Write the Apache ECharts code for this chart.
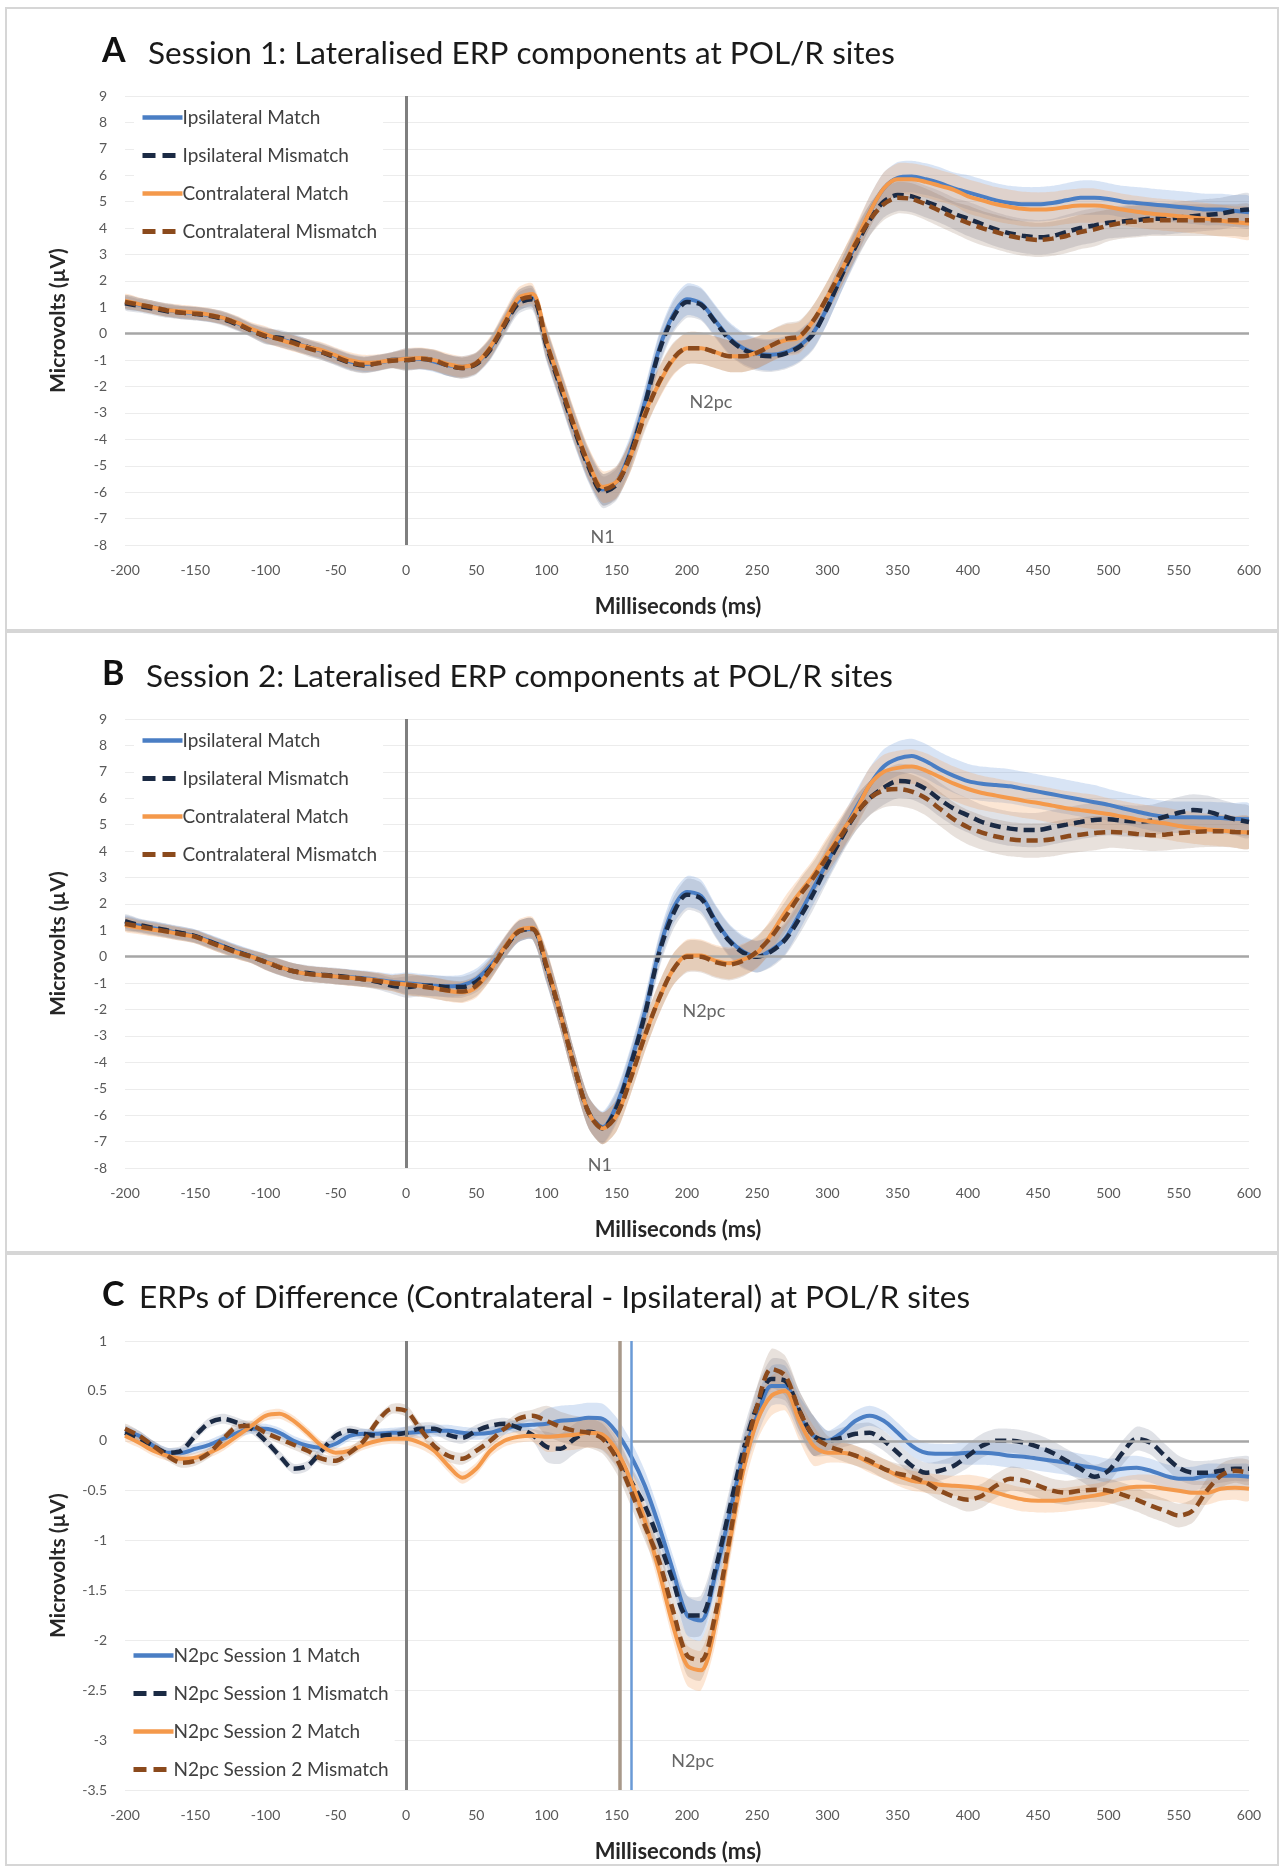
<!DOCTYPE html>
<html><head><meta charset="utf-8">
<script src="https://cdn.jsdelivr.net/npm/echarts@6/dist/echarts.min.js"></script>
<style>html,body{margin:0;padding:0;background:#fff}#c{width:1283px;height:1867px}</style>
</head><body><div id="c"></div>
<script>
// ---------- DATA ----------
const times = [-200,-190,-180,-170,-160,-150,-140,-130,-120,-110,
 -100,-90,-80,-70,-60,-50,-40,-30,-20,-10,
 0,10,20,30,40,50,60,70,80,90,
 100,110,120,130,140,150,160,170,180,190,
 200,210,220,230,240,250,260,270,280,290,
 300,310,320,330,340,350,360,370,380,390,
 400,410,420,430,440,450,460,470,480,490,
 500,510,520,530,540,550,560,570,580,590,600];

// Panel A: Session 1
const s1IpsiMatch = [1.2,1.1,1.0,0.9,0.82,0.78,0.7,0.6,0.4,0.15,
 -0.05,-0.2,-0.35,-0.5,-0.65,-0.85,-1.05,-1.15,-1.1,-1.0,
 -0.95,-0.95,-1.05,-1.2,-1.25,-1.1,-0.55,0.4,1.25,1.4,
 -0.4,-2.0,-3.6,-5.0,-5.9,-5.6,-4.4,-2.6,-0.6,0.7,
 1.3,1.15,0.5,-0.15,-0.55,-0.75,-0.8,-0.7,-0.45,0.05,
 1.0,2.2,3.4,4.6,5.5,5.9,5.95,5.85,5.7,5.5,
 5.35,5.2,5.05,4.95,4.9,4.9,4.95,5.05,5.15,5.15,
 5.1,5.0,4.95,4.9,4.85,4.8,4.75,4.7,4.7,4.65,4.6];
const s1IpsiMismatch = [1.15,1.05,0.95,0.85,0.8,0.75,0.68,0.55,0.35,0.12,
 -0.1,-0.15,-0.3,-0.5,-0.7,-0.9,-1.1,-1.2,-1.1,-1.0,
 -1.0,-0.95,-1.0,-1.2,-1.3,-1.15,-0.6,0.3,1.15,1.3,
 -0.45,-2.05,-3.65,-5.05,-6.0,-5.7,-4.5,-2.7,-0.7,0.6,
 1.2,1.1,0.45,-0.2,-0.6,-0.8,-0.85,-0.75,-0.5,0.0,
 1.0,2.2,3.3,4.3,5.0,5.25,5.2,5.0,4.8,4.55,
 4.35,4.15,3.95,3.8,3.7,3.65,3.7,3.85,4.0,4.1,
 4.2,4.25,4.3,4.35,4.35,4.4,4.45,4.5,4.55,4.65,4.7];
const s1ContraMatch = [1.25,1.12,1.0,0.9,0.85,0.8,0.72,0.6,0.42,0.18,
 -0.02,-0.22,-0.38,-0.5,-0.62,-0.82,-1.0,-1.1,-1.08,-1.0,
 -0.95,-0.92,-1.0,-1.15,-1.25,-1.1,-0.5,0.45,1.35,1.5,
 -0.3,-1.9,-3.5,-4.9,-5.8,-5.6,-4.6,-3.0,-1.9,-1.0,
 -0.55,-0.55,-0.7,-0.85,-0.85,-0.7,-0.45,-0.25,-0.15,0.5,
 1.4,2.4,3.5,4.6,5.5,5.85,5.85,5.75,5.6,5.45,
 5.2,5.05,4.9,4.8,4.72,4.7,4.72,4.8,4.85,4.85,
 4.8,4.7,4.62,4.55,4.5,4.45,4.4,4.35,4.28,4.22,4.17];
const s1ContraMismatch = [1.2,1.1,1.0,0.88,0.8,0.76,0.7,0.58,0.38,0.12,
 -0.08,-0.2,-0.35,-0.55,-0.7,-0.88,-1.08,-1.18,-1.12,-1.02,
 -1.0,-0.95,-1.02,-1.2,-1.3,-1.12,-0.55,0.35,1.25,1.4,
 -0.35,-1.95,-3.55,-4.95,-5.9,-5.65,-4.6,-3.1,-1.85,-0.95,
 -0.55,-0.55,-0.7,-0.85,-0.85,-0.72,-0.45,-0.2,-0.1,0.5,
 1.4,2.4,3.4,4.3,4.9,5.15,5.1,4.9,4.65,4.4,
 4.2,4.0,3.85,3.7,3.6,3.55,3.6,3.7,3.85,3.95,
 4.1,4.2,4.25,4.3,4.3,4.3,4.3,4.3,4.3,4.3,4.3];

// Panel B: Session 2
const s2IpsiMatch = [1.3,1.18,1.08,0.98,0.88,0.78,0.6,0.4,0.2,0.03,
 -0.18,-0.38,-0.55,-0.65,-0.7,-0.75,-0.78,-0.82,-0.88,-0.95,
 -1.0,-1.05,-1.1,-1.12,-1.08,-0.85,-0.35,0.35,0.95,1.05,
 -0.4,-2.2,-4.2,-5.9,-6.45,-5.6,-4.0,-2.1,0.2,1.8,
 2.45,2.3,1.4,0.65,0.2,0.0,0.25,0.7,1.6,2.6,
 3.6,4.6,5.6,6.5,7.2,7.5,7.6,7.4,7.1,6.85,
 6.65,6.55,6.5,6.45,6.35,6.25,6.15,6.05,5.95,5.85,
 5.75,5.62,5.5,5.38,5.3,5.28,5.28,5.27,5.25,5.22,5.2];
const s2IpsiMismatch = [1.35,1.2,1.1,1.0,0.9,0.78,0.58,0.38,0.18,0.0,
 -0.2,-0.4,-0.55,-0.62,-0.68,-0.72,-0.78,-0.85,-0.95,-1.1,
 -1.15,-1.1,-1.1,-1.15,-1.15,-0.95,-0.45,0.3,0.95,1.05,
 -0.4,-2.2,-4.2,-5.9,-6.5,-5.7,-4.1,-2.2,0.1,1.6,
 2.35,2.2,1.35,0.6,0.15,0.0,0.2,0.65,1.45,2.4,
 3.5,4.5,5.4,6.0,6.4,6.65,6.6,6.35,5.95,5.6,
 5.35,5.1,4.95,4.85,4.8,4.8,4.9,5.0,5.1,5.18,
 5.2,5.15,5.12,5.15,5.3,5.45,5.55,5.5,5.35,5.2,5.1];
const s2ContraMatch = [1.2,1.1,1.02,0.95,0.85,0.75,0.55,0.35,0.15,0.0,
 -0.2,-0.38,-0.55,-0.65,-0.7,-0.75,-0.8,-0.85,-0.9,-1.0,
 -1.05,-1.1,-1.18,-1.3,-1.35,-1.15,-0.5,0.35,1.0,1.1,
 -0.3,-2.2,-4.2,-5.9,-6.5,-6.0,-4.6,-3.0,-1.6,-0.5,
 0.05,0.05,-0.15,-0.25,-0.1,0.15,0.85,1.7,2.4,3.1,
 3.9,4.7,5.5,6.5,7.0,7.15,7.2,7.05,6.8,6.55,
 6.35,6.2,6.1,6.0,5.9,5.82,5.72,5.62,5.55,5.48,
 5.4,5.3,5.2,5.12,5.05,4.95,4.88,4.82,4.78,4.73,4.7];
const s2ContraMismatch = [1.25,1.15,1.05,0.95,0.85,0.75,0.55,0.35,0.15,0.0,
 -0.2,-0.4,-0.55,-0.65,-0.7,-0.75,-0.8,-0.85,-0.92,-1.0,
 -1.05,-1.12,-1.2,-1.28,-1.32,-1.1,-0.5,0.3,0.95,1.05,
 -0.35,-2.2,-4.2,-5.9,-6.5,-6.0,-4.6,-3.0,-1.6,-0.5,
 0.0,0.0,-0.2,-0.3,-0.15,0.2,0.75,1.5,2.3,3.0,
 3.8,4.6,5.4,6.0,6.3,6.35,6.25,6.0,5.6,5.2,
 4.9,4.7,4.55,4.45,4.4,4.4,4.45,4.55,4.62,4.68,
 4.72,4.7,4.65,4.6,4.62,4.68,4.72,4.75,4.75,4.72,4.7];

// Panel C: difference waves
const n2S1Match = [0.1,0.05,-0.05,-0.12,-0.12,-0.08,-0.04,0.02,0.08,0.12,
 0.12,0.08,0.0,-0.05,-0.07,-0.03,0.05,0.07,0.07,0.08,
 0.08,0.09,0.1,0.1,0.08,0.07,0.08,0.12,0.15,0.16,
 0.17,0.2,0.21,0.23,0.22,0.08,-0.15,-0.45,-0.85,-1.3,
 -1.75,-1.8,-1.35,-0.75,-0.15,0.25,0.55,0.55,0.25,0.05,
 0.0,0.08,0.2,0.25,0.2,0.08,-0.05,-0.12,-0.13,-0.13,
 -0.12,-0.12,-0.13,-0.15,-0.16,-0.18,-0.2,-0.22,-0.25,-0.27,
 -0.3,-0.28,-0.27,-0.3,-0.35,-0.38,-0.38,-0.35,-0.35,-0.35,-0.36];
const n2S1Mismatch = [0.08,0.02,-0.05,-0.12,-0.1,0.05,0.18,0.22,0.18,0.12,
 0.0,-0.15,-0.28,-0.25,-0.1,0.05,0.1,0.07,0.05,0.06,
 0.08,0.12,0.12,0.06,0.03,0.1,0.15,0.17,0.13,0.06,
 -0.06,-0.08,0.02,0.09,0.05,-0.12,-0.4,-0.65,-1.0,-1.4,
 -1.75,-1.75,-1.3,-0.7,-0.1,0.35,0.62,0.6,0.3,0.05,
 0.0,0.03,0.07,0.08,0.0,-0.12,-0.25,-0.32,-0.3,-0.25,
 -0.15,-0.05,0.0,0.0,-0.02,-0.06,-0.12,-0.2,-0.28,-0.36,
 -0.3,-0.12,0.02,-0.02,-0.15,-0.27,-0.32,-0.32,-0.3,-0.28,-0.28];
const n2S2Match = [0.05,-0.02,-0.1,-0.15,-0.18,-0.17,-0.12,-0.05,0.05,0.15,
 0.25,0.27,0.2,0.08,-0.05,-0.12,-0.1,-0.04,0.0,0.02,
 0.02,-0.02,-0.1,-0.25,-0.37,-0.28,-0.1,0.0,0.04,0.05,
 0.04,0.05,0.06,0.08,0.06,-0.1,-0.4,-0.8,-1.3,-1.85,
 -2.25,-2.3,-1.85,-1.05,-0.3,0.2,0.45,0.5,0.2,-0.05,
 -0.12,-0.12,-0.15,-0.22,-0.28,-0.35,-0.4,-0.42,-0.44,-0.45,
 -0.46,-0.48,-0.52,-0.56,-0.59,-0.6,-0.6,-0.59,-0.57,-0.55,
 -0.52,-0.48,-0.46,-0.46,-0.48,-0.5,-0.52,-0.52,-0.48,-0.47,-0.48];
const n2S2Mismatch = [0.12,0.05,-0.05,-0.15,-0.22,-0.2,-0.12,0.02,0.14,0.15,
 0.08,0.02,-0.04,-0.1,-0.18,-0.2,-0.12,0.0,0.2,0.32,
 0.3,0.12,-0.05,-0.15,-0.18,-0.1,0.0,0.12,0.22,0.25,
 0.2,0.14,0.1,0.08,0.02,-0.18,-0.5,-0.85,-1.2,-1.7,
 -2.15,-2.2,-1.75,-1.0,-0.2,0.35,0.72,0.65,0.3,0.05,
 -0.05,-0.1,-0.15,-0.2,-0.28,-0.33,-0.36,-0.42,-0.5,-0.56,
 -0.59,-0.55,-0.45,-0.38,-0.4,-0.45,-0.5,-0.52,-0.5,-0.49,
 -0.5,-0.54,-0.59,-0.65,-0.7,-0.75,-0.7,-0.5,-0.35,-0.3,-0.32];

// half-width of shaded error bands, per 100 ms window (-200..600)
const bandA = [0.25,0.3,0.4,0.6,0.6,0.6,0.65,0.6];
const bandB = [0.25,0.3,0.4,0.6,0.6,0.65,0.65,0.6];
const bandC = [0.05,0.05,0.06,0.15,0.2,0.1,0.12,0.12];

const legendAB = ['Ipsilateral Match','Ipsilateral Mismatch','Contralateral Match','Contralateral Mismatch'];
const legendC = ['N2pc Session 1 Match','N2pc Session 1 Mismatch','N2pc Session 2 Match','N2pc Session 2 Mismatch'];
const titles = ['Session 1: Lateralised ERP components at POL/R sites','Session 2: Lateralised ERP components at POL/R sites','ERPs of Difference (Contralateral - Ipsilateral) at POL/R sites'];
const letters = ['A','B','C'];
const onsetLinesC = [152,160];
const annotA = [{name:'N1', value:[140,-7.7]},{name:'N2pc', value:[217,-2.6]}];
const annotB = [{name:'N1', value:[138,-7.9]},{name:'N2pc', value:[212,-2.05]}];
const annotC = [{name:'N2pc', value:[204,-3.21]}];

// ---------- STYLE ----------
const FONT = 'Lato, "Open Sans", sans-serif';
const COLORS = ['#4A7EC4','#1B2A44','#F4994B','#8B4A1C'];
const BANDCOL = ['rgba(91,141,212,0.24)','rgba(100,110,135,0.2)','rgba(244,160,90,0.26)','rgba(140,105,80,0.2)'];
const DASHED = [false,true,false,true];
const gridTops = [96,719,1341];
const gridH = 449;

const panels = [
  {vals:[s1IpsiMatch,s1IpsiMismatch,s1ContraMatch,s1ContraMismatch], band:bandA, names:legendAB, min:-8, max:9, interval:1, annot:annotA},
  {vals:[s2IpsiMatch,s2IpsiMismatch,s2ContraMatch,s2ContraMismatch], band:bandB, names:legendAB, min:-8, max:9, interval:1, annot:annotB},
  {vals:[n2S1Match,n2S1Mismatch,n2S2Match,n2S2Mismatch], band:bandC, names:legendC, min:-3.5, max:1, interval:0.5, annot:annotC}
];

function hwAt(band, t){ return band[Math.min(band.length-1, Math.floor((t+200)/100))]; }

const grids=[], xAxes=[], yAxes=[], series=[], legends=[], titleArr=[];
panels.forEach((p,g)=>{
  grids.push({left:125, right:34, top:gridTops[g], height:gridH});
  xAxes.push({gridIndex:g, type:'value', min:-200, max:600, interval:50,
    axisLine:{show:false}, axisTick:{show:false}, splitLine:{show:false},
    axisLabel:{color:'#595959', fontSize:14, margin:18, fontFamily:FONT},
    name:'Milliseconds (ms)', nameLocation:'middle', nameGap:51,
    nameTextStyle:{fontWeight:'bold', fontSize:22, color:'#262626', fontFamily:FONT, padding:[0,18,0,0]}});
  yAxes.push({gridIndex:g, type:'value', min:p.min, max:p.max, interval:p.interval,
    axisLine:{show:false}, axisTick:{show:false},
    splitLine:{lineStyle:{color:'#ECECEC', width:1}},
    axisLabel:{color:'#595959', fontSize:14, margin:18, fontFamily:FONT},
    name:'Microvolts (µV)', nameLocation:'middle', nameGap:56, nameRotate:90,
    nameTextStyle:{fontWeight:'bold', fontSize:21, color:'#262626', fontFamily:FONT}});
  // reference lines
  const ml = [];
  if (g===2){
    ml.push([{coord:[onsetLinesC[1],0], lineStyle:{color:'#A6A6A6', width:2.5, type:'solid'}},{coord:[600,0]}]);
    ml.push({xAxis:onsetLinesC[0], lineStyle:{color:'#A8998A', width:3.5, type:'solid'}});
    ml.push({xAxis:onsetLinesC[1], lineStyle:{color:'#6A9AD6', width:2.5, type:'solid'}});
  } else {
    ml.push({yAxis:0, lineStyle:{color:'#A6A6A6', width:2.5, type:'solid'}});
  }
  ml.push({xAxis:0, lineStyle:{color:'#7F7F7F', width:3, type:'solid'}});
  series.push({type:'line', xAxisIndex:g, yAxisIndex:g, data:[], silent:true, z:1,
    markLine:{symbol:['none','none'], silent:true, animation:false, label:{show:false}, data:ml}});
  // shaded bands (polygon through axis coordinates)
  p.vals.forEach((vals,k)=>{
    series.push({type:'custom', xAxisIndex:g, yAxisIndex:g, silent:true, z:1, clip:true,
      data:[[times[0], vals[0]]],
      renderItem:(params, api)=>{
        const up=[], lo=[];
        for(let i=0;i<times.length;i++){
          const h=hwAt(p.band,times[i]);
          up.push(api.coord([times[i], vals[i]+h]));
          lo.push(api.coord([times[i], vals[i]-h]));
        }
        return {type:'polygon', shape:{points:up.concat(lo.reverse()), smooth:0.25}, style:{fill:BANDCOL[k]}};
      }});
  });
  // lines
  p.vals.forEach((vals,k)=>{
    series.push({type:'line', name:p.names[k], xAxisIndex:g, yAxisIndex:g, symbol:'none', smooth:0.3, z:3+k,
      lineStyle:{color:COLORS[k], width:DASHED[k]?4.5:4, type:DASHED[k]?[11,6]:'solid'},
      itemStyle:{color:COLORS[k]},
      data: vals.map((v,i)=>[times[i], v])});
  });
  // annotations
  series.push({type:'scatter', xAxisIndex:g, yAxisIndex:g, symbolSize:1, itemStyle:{color:'rgba(0,0,0,0)'}, z:10, silent:true,
    label:{show:true, position:'inside', formatter:'{b}', color:'#404040', fontSize:18, fontFamily:FONT},
    data:p.annot});
  // legends
  const legTop = g===2 ? 1642 : (gridTops[g]+8);
  legends.push({
    data:p.names.map((n,k)=>DASHED[k] ? {name:n, lineStyle:{type:[13,7], width:5}} : {name:n}),
    orient:'vertical', left:g===2?125:134, top:legTop, itemWidth:40, itemHeight:14, itemGap:19,
    backgroundColor:'#fff', padding:[4,6],
    itemStyle:{opacity:0}, lineStyle:{width:4.5},
    textStyle:{fontSize:19, color:'#404040', fontFamily:FONT, padding:[0,0,0,-5]}});
  // titles
  const ty = [33,656,1277][g];
  titleArr.push({text:letters[g], left:97, top:ty-4, textStyle:{fontSize:34, fontWeight:'bold', color:'#111', fontFamily:FONT}});
  titleArr.push({text:titles[g], left:[143,141,134][g], top:ty, textStyle:{fontSize:31.5, fontWeight:'normal', color:'#1a1a1a', fontFamily:FONT}});
});

const chart = echarts.init(document.getElementById('c'), null, {renderer:'canvas'});
chart.setOption({
  animation:false,
  backgroundColor:'#fff',
  title:titleArr,
  grid:grids, xAxis:xAxes, yAxis:yAxes, legend:legends, series:series,
  graphic:[
    {type:'rect', shape:{x:6,y:8,width:1272,height:622}, style:{fill:null, stroke:'#D6D6D6', lineWidth:2}, silent:true, z:-1},
    {type:'rect', shape:{x:6,y:632,width:1272,height:620}, style:{fill:null, stroke:'#D6D6D6', lineWidth:2}, silent:true, z:-1},
    {type:'rect', shape:{x:6,y:1254,width:1272,height:611}, style:{fill:null, stroke:'#D6D6D6', lineWidth:2}, silent:true, z:-1}
  ]
});
</script></body></html>
